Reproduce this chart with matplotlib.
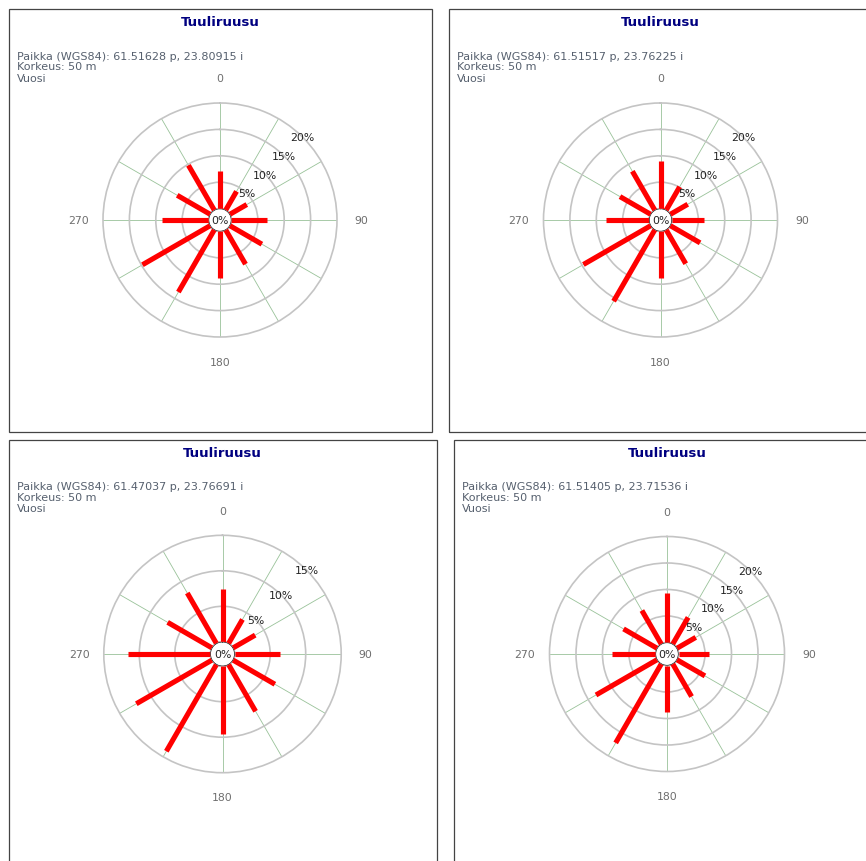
import matplotlib
matplotlib.use('Agg')
import matplotlib.pyplot as plt
import numpy as np
from matplotlib.patches import Rectangle

# ── Data ──────────────────────────────────────────────────────────────────────
directions = [0, 30, 60, 90, 120, 150, 180, 210, 240, 270, 300, 330]
cardinal_labels = ['0', '90', '180', '270']

coords = [
    '61.51628 p, 23.80915 i',
    '61.51517 p, 23.76225 i',
    '61.47037 p, 23.76691 i',
    '61.51405 p, 23.71536 i',
]
height_m = 50

freq_1 = [7.1, 4.1, 3.7, 6.7, 7.0, 7.5, 8.9, 13.6, 14.8, 8.8, 7.2, 9.8]
freq_2 = [9.0, 5.1, 3.8, 6.1, 6.5, 7.4, 8.9, 15.6, 14.7, 8.1, 6.7, 8.5]
freq_3 = [7.4, 3.9, 3.6, 6.4, 6.8, 7.6, 9.5, 14.1, 12.3, 11.6, 7.2, 8.2]
freq_4 = [9.3, 5.8, 4.1, 5.8, 6.1, 7.1, 8.8, 17.2, 13.3, 8.2, 7.3, 7.3]
all_freqs = [freq_1, freq_2, freq_3, freq_4]

r_max = [20, 20, 15, 20]

# ── Layout (pixels) ───────────────────────────────────────────────────────────
W, H = 866, 862
DPI = 100
# frame: x0, y0 (top), width, height
frames = [(9, 10, 423, 423), (449, 10, 423, 423),
          (9, 441, 428, 428), (454, 441, 428, 428)]
centres = [(220, 221), (660.5, 221), (222.5, 655), (667, 655)]
outer_px = [117, 117, 118.7, 117.5]
hole_px = [11.4, 11.4, 12.2, 11.5]

TITLE_C = '#000080'
INFO_C = '#56606e'
AXLBL_C = '#6e6e6e'
RING_C = '#c4c4c4'
SPOKE_C = '#99c299'

fig = plt.figure(figsize=(W / DPI, H / DPI), dpi=DPI)


def fx(px):
    return px / W


def fy(py):
    return 1 - py / H


for i in range(4):
    x0, y0, fw, fh = frames[i]
    cx, cy = centres[i]
    R, h, rm = outer_px[i], hole_px[i], r_max[i]
    vals = all_freqs[i]

    # panel frame
    fig.patches.append(Rectangle((fx(x0), fy(y0 + fh)), fw / W, fh / H,
                                 transform=fig.transFigure, fill=False,
                                 edgecolor='#444444', linewidth=0.9))

    # title + info lines
    fig.text(fx(cx), fy(y0 + 13), 'Tuuliruusu', color=TITLE_C,
             fontsize=9.5, fontweight='bold', ha='center', va='center')
    info = [f'Paikka (WGS84): {coords[i]}', f'Korkeus: {height_m} m', 'Vuosi']
    for k, line in enumerate(info):
        fig.text(fx(x0 + 8), fy(y0 + 46.5 + 11 * k), line, color=INFO_C,
                 fontsize=8.0, ha='left', va='center')

    # polar axes
    ax = fig.add_axes([fx(cx - R), fy(cy + R), 2 * R / W, 2 * R / H],
                      projection='polar')
    ax.set_theta_zero_location('N')
    ax.set_theta_direction(-1)
    rorigin = -rm * h / (R - h)
    ax.set_ylim(0, rm)
    ax.set_rorigin(rorigin)
    ax.patch.set_alpha(0)

    ax.set_thetagrids(directions, labels=[''] * len(directions))
    ax.set_rgrids(list(range(5, rm, 5)), labels=[''] * len(range(5, rm, 5)))
    ax.xaxis.grid(True, color=SPOKE_C, linewidth=0.6)
    ax.yaxis.grid(True, color=RING_C, linewidth=1.2)
    ax.tick_params(length=0)
    ax.spines['polar'].set_color(RING_C)
    ax.spines['polar'].set_linewidth(1.2)

    th_full = np.linspace(0, 2 * np.pi, 200)
    ax.plot(th_full, np.zeros_like(th_full), color=RING_C, lw=1.2,
            zorder=3)

    theta = np.radians(directions)
    ax.vlines(theta, 0, vals, colors='#ff0000', linewidth=3.7, zorder=4,
              capstyle='butt')

    ax.text(0, rorigin, '0%', ha='center', va='center', fontsize=7.8,
            color='#222222', zorder=6)

    for r in range(5, rm + 1, 5):
        ax.text(np.radians(45), r, f'{r}%', ha='center', va='center',
                fontsize=7.8, color='#222222', zorder=5)

    px_per_unit = (R - h) / rm
    r_lab = (R + 24.5 - h) / px_per_unit
    for ang, lab in zip([0, 90, 180, 270], cardinal_labels):
        ax.text(np.radians(ang), r_lab, lab, ha='center', va='center',
                fontsize=7.8, color=AXLBL_C, clip_on=False)

fig.savefig('out.png', dpi=DPI)
